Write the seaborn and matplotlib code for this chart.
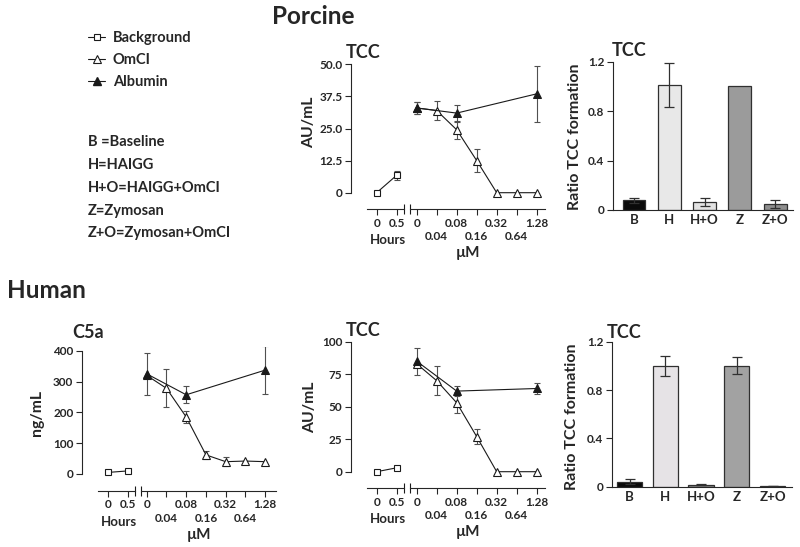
import numpy as np
import pandas as pd
import matplotlib
matplotlib.use('Agg')
import matplotlib.pyplot as plt
import seaborn as sns
from matplotlib.lines import Line2D

# ---- data ----
hours = [0, 0.5]
hour_labels = ['0', '0.5']
doses = ['0', '0.04', '0.08', '0.16', '0.32', '0.64', '1.28']
alb_idx = [0, 2, 6]   # albumin measured at 0, 0.08, 1.28 uM

# Porcine TCC (AU/mL)
pig_tcc_bg = [0, 6.8]
pig_tcc_bg_err = [0, 1.8]
pig_tcc_omci = [33, 32, 24.5, 12.5, 0, 0, 0]
pig_tcc_omci_err = [2.5, 3.8, 3.5, 4.5, 0, 0, 0]
pig_tcc_alb = [33, 31, 38.5]
pig_tcc_alb_err = [2.5, 3.3, 11]

# Human C5a (ng/mL)
hum_c5a_bg = [5, 10]
hum_c5a_bg_err = [0, 0]
hum_c5a_omci = [320, 278, 185, 62, 40, 42, 40]
hum_c5a_omci_err = [0, 62, 20, 12, 14, 0, 0]
hum_c5a_alb = [325, 257, 337]
hum_c5a_alb_err = [68, 27, 78]

# Human TCC (AU/mL)
hum_tcc_bg = [0, 3]
hum_tcc_bg_err = [0, 0]
hum_tcc_omci = [83, 70, 53, 27, 0, 0, 0]
hum_tcc_omci_err = [0, 11, 8, 5.5, 0, 0, 0]
hum_tcc_alb = [85, 62, 64]
hum_tcc_alb_err = [10.5, 4, 4.5]

# Ratio TCC formation
groups = ['B', 'H', 'H+O', 'Z', 'Z+O']
pig_ratio = [0.08, 1.01, 0.065, 1.0, 0.05]
pig_ratio_err = [0.02, 0.18, 0.03, 0, 0.03]
hum_ratio = [0.04, 1.0, 0.015, 1.0, 0.005]
hum_ratio_err = [0.02, 0.08, 0.004, 0.07, 0.002]
pig_colors = ['#0a0a0a', '#e8e8e8', '#e2e2e2', '#9b9b9b', '#8e8e8e']
hum_colors = ['#0a0a0a', '#e6e3e6', '#8a8a8a', '#a2a2a2', '#4a4a4a']

sns.set_theme(style='ticks')
plt.rcParams['font.family'] = ['Lato', 'DejaVu Sans']
plt.rcParams['font.weight'] = 'bold'
plt.rcParams['axes.labelweight'] = 'bold'
plt.rcParams['axes.linewidth'] = 0.8

W, H = 800, 547
fig = plt.figure(figsize=(8, 5.47), dpi=100)

TICK = 8.5


def box(x0, x1, ytop, ybot):
    # pixel box -> figure fraction
    return [x0 / W, 1 - ybot / H, (x1 - x0) / W, (ybot - ytop) / H]


def err(ax, x, y, e, color='#505050', cap=2.5, lw=0.8, z=1):
    # only draw the bars that have a spread
    keep = [i for i in range(len(e)) if e[i] > 0]
    if not keep:
        return
    ax.errorbar([x[i] for i in keep], [y[i] for i in keep], yerr=[e[i] for i in keep],
                fmt='none', ecolor=color, elinewidth=lw, capsize=cap, capthick=lw, zorder=z)


def line_panel(xl, y0, ytop, ymax, yticks, ylabels, bg, bg_err, omci, omci_err,
               alb, alb_err, step=20.0, mu0=66.0):
    scale = (y0 - ytop) / ymax
    yaxis = y0 + 16.5
    top = ytop - 4
    ylim = (-(yaxis - y0) / scale, ymax + (ytop - top) / scale)

    # hours part
    hx0, hx1 = xl, xl + 53
    ax_h = fig.add_axes(box(hx0, hx1, top, yaxis))
    ax_h.patch.set_alpha(0)
    hlim = ((hx0 - xl - 26) / 40, (hx1 - xl - 26) / 40)
    err(ax_h, hours, bg, bg_err)
    sns.lineplot(x=hours, y=bg, ax=ax_h, color='k', lw=0.8, marker='s',
                 markerfacecolor='white', markeredgecolor='k', markersize=5,
                 markeredgewidth=0.8, zorder=3)
    ax_h.set_xlim(hlim)
    ax_h.set_ylim(ylim)
    ax_h.set_xticks(hours, hour_labels)
    ax_h.set_yticks(yticks, ylabels)
    ax_h.set_ylabel('')
    ax_h.set_xlabel('Hours', fontsize=9.5)
    ax_h.xaxis.set_label_coords(((xl + 37) - hx0) / (hx1 - hx0), -25 / (yaxis - top))
    for s in ['top', 'right']:
        ax_h.spines[s].set_visible(False)
    ax_h.spines['left'].set_bounds(0, ymax)
    ax_h.spines['bottom'].set_bounds((16 - 26) / 40, hlim[1])
    ax_h.tick_params(direction='out', length=4, width=0.8, labelsize=TICK, pad=2)
    ax_h.plot([hlim[1]], [ylim[0]], marker='|', ms=7, mew=0.8, color='k', clip_on=False)

    # dose part
    mx0, mx1 = xl + 59, xl + 194
    ax_m = fig.add_axes(box(mx0, mx1, top, yaxis))
    ax_m.patch.set_alpha(0)
    mlim = ((mx0 - xl - mu0) / step, (mx1 - xl - mu0) / step)
    idx = list(range(len(doses)))
    err(ax_m, idx, omci, omci_err)
    err(ax_m, alb_idx, alb, alb_err)
    sns.lineplot(x=idx, y=omci, ax=ax_m, color='k', lw=0.8, marker='^',
                 markerfacecolor='white', markeredgecolor='k', markersize=5.5,
                 markeredgewidth=0.8, zorder=3)
    sns.lineplot(x=alb_idx, y=alb, ax=ax_m, color='k', lw=0.8, marker='^',
                 markerfacecolor='k', markeredgecolor='k', markersize=5.5,
                 zorder=4)
    ax_m.set_xlim(mlim)
    ax_m.set_ylim(ylim)
    ax_m.set_xticks([0, 2, 4, 6], [doses[i] for i in [0, 2, 4, 6]])
    ax_m.set_xticks([1, 3, 5], [doses[i] for i in [1, 3, 5]], minor=True)
    ax_m.tick_params(axis='x', which='both', direction='out', length=4, width=0.8,
                     labelsize=TICK, pad=2)
    ax_m.tick_params(axis='x', which='minor', pad=12)
    ax_m.yaxis.set_visible(False)
    for s in ['top', 'right', 'left']:
        ax_m.spines[s].set_visible(False)
    ax_m.set_ylabel('')
    ax_m.set_xlabel('µM', fontsize=11)
    ax_m.xaxis.set_label_coords(0.43, -37 / (yaxis - top))
    ax_m.plot([mlim[0]], [ylim[0]], marker='|', ms=7, mew=0.8, color='k', clip_on=False)
    return ax_h, ax_m


def bar_panel(xl, y0, ytop, xend, c0, step, width, vals, errs, colors):
    scale = (y0 - ytop) / 1.2
    top = ytop - 3
    ax = fig.add_axes(box(xl, xend, top, y0))
    ax.patch.set_alpha(0)
    df = pd.DataFrame({'group': groups, 'ratio': vals})
    sns.barplot(data=df, x='group', y='ratio', hue='group', palette=colors,
                width=width, edgecolor='#303030', linewidth=0.9, legend=False,
                errorbar=None, ax=ax, zorder=2)
    err(ax, list(range(len(groups))), vals, errs, color='#303030', cap=3.5, lw=0.9, z=4)
    ax.set_xlim((xl - c0) / step, (xend - c0) / step)
    ax.set_ylim(0, 1.2 + 3 / scale)
    ax.set_yticks([0, 0.4, 0.8, 1.2], ['0', '0.4', '0.8', '1.2'])
    ax.set_xlabel('')
    ax.set_ylabel('')
    for s in ['top', 'right']:
        ax.spines[s].set_visible(False)
    ax.spines['left'].set_bounds(0, 1.2)
    ax.tick_params(axis='y', direction='out', length=4, width=0.8, labelsize=TICK, pad=2)
    ax.tick_params(axis='x', length=0, labelsize=9.5, pad=3)
    return ax


# Porcine
line_panel(350.7, 192.7, 64.3, 50, [0, 12.5, 25, 37.5, 50],
           ['0', '12.5', '25.0', '37.5', '50.0'],
           pig_tcc_bg, pig_tcc_bg_err, pig_tcc_omci, pig_tcc_omci_err,
           pig_tcc_alb, pig_tcc_alb_err, step=20.0, mu0=66.0)
bar_panel(612.7, 210, 61.7, 793, 634, 35.3, 0.65, pig_ratio, pig_ratio_err, pig_colors)

# Human
line_panel(81.7, 474, 350.7, 400, [0, 100, 200, 300, 400],
           ['0', '100', '200', '300', '400'],
           hum_c5a_bg, hum_c5a_bg_err, hum_c5a_omci, hum_c5a_omci_err,
           hum_c5a_alb, hum_c5a_alb_err, step=19.75, mu0=65.0)
line_panel(350.7, 471.7, 341.7, 100, [0, 25, 50, 75, 100],
           ['0', '25', '50', '75', '100'],
           hum_tcc_bg, hum_tcc_bg_err, hum_tcc_omci, hum_tcc_omci_err,
           hum_tcc_alb, hum_tcc_alb_err, step=20.0, mu0=66.0)
bar_panel(611.7, 486.7, 341.7, 791.7, 629.5, 35.75, 0.7, hum_ratio, hum_ratio_err, hum_colors)


def t(x, y, s, size, ha='left', rot=0):
    fig.text(x / W, 1 - y / H, s, fontsize=size, ha=ha, va='center',
             rotation=rot, fontweight='bold')


t(313, 16, 'Porcine', 17.5, ha='center')
t(7, 291, 'Human', 17.5)
t(346, 53, 'TCC', 13)
t(612, 50, 'TCC', 13)
t(72, 333, 'C5a', 13)
t(346, 331, 'TCC', 13)
t(607, 332, 'TCC', 13)
t(309, 122, 'AU/mL', 11.3, ha='center', rot=90)
t(575, 137, 'Ratio TCC formation', 11.5, ha='center', rot=90)
t(37, 413, 'ng/mL', 11.3, ha='center', rot=90)
t(310, 407, 'AU/mL', 11.3, ha='center', rot=90)
t(572, 417, 'Ratio TCC formation', 11.5, ha='center', rot=90)

# keys
handles = [
    Line2D([], [], color='k', lw=0.8, marker='s', markerfacecolor='white',
           markeredgecolor='k', markersize=5, markeredgewidth=0.8),
    Line2D([], [], color='k', lw=0.8, marker='^', markerfacecolor='white',
           markeredgecolor='k', markersize=5.5, markeredgewidth=0.8),
    Line2D([], [], color='k', lw=0.8, marker='^', markerfacecolor='k',
           markeredgecolor='k', markersize=5.5),
]
fig.legend(handles, ['Background', 'OmCI', 'Albumin'], loc='upper left',
           bbox_to_anchor=(82 / W, 1 - 25 / H), frameon=False, handlelength=1.2,
           handletextpad=0.5, labelspacing=0.55, borderaxespad=0,
           prop={'weight': 'bold', 'size': 10.5})

defs = ['B =Baseline', 'H=HAIGG', 'H+O=HAIGG+OmCI', 'Z=Zymosan', 'Z+O=Zymosan+OmCI']
for i, s in enumerate(defs):
    t(88, 141.5 + 23 * i, s, 10.5)

fig.savefig('out.png', dpi=100)
